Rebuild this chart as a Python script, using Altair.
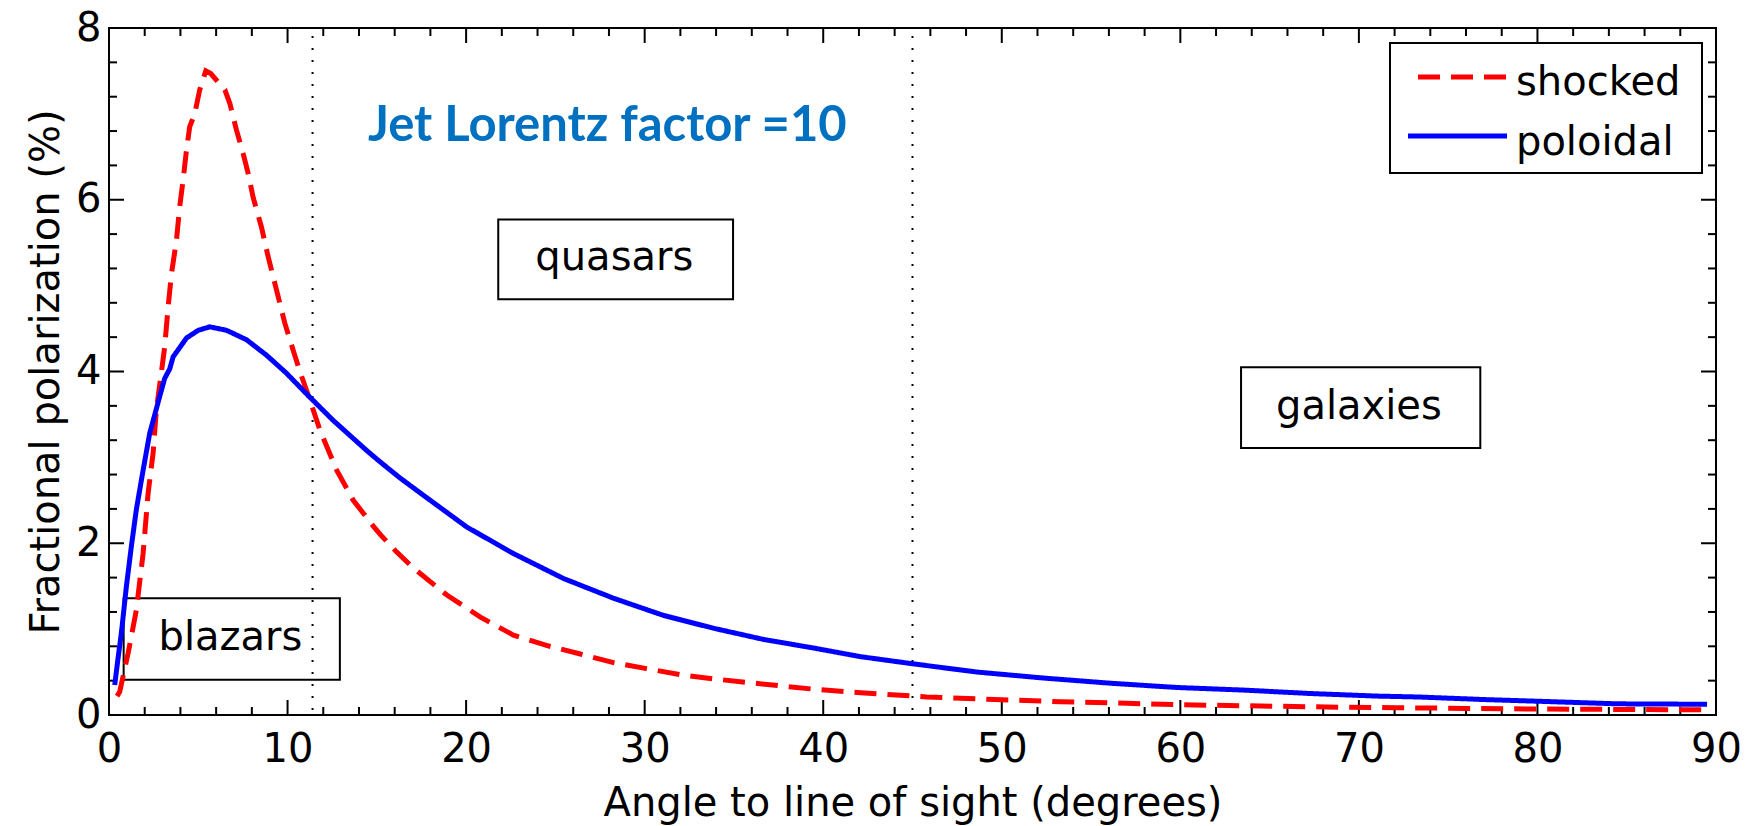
import altair as alt
import pandas as pd

# ---- data ----
shocked_angle = [0.45, 0.6, 1.07, 1.53, 1.91, 2.19, 2.47, 2.65, 2.94, 3.12, 3.31, 3.5, 3.78, 3.96,
                 4.15, 4.34, 4.52, 4.8, 5.08, 5.42, 5.7, 6.11, 6.49, 6.77, 7.14, 7.51, 7.79, 8.07,
                 8.54, 8.91, 9.38, 9.85, 10.31, 10.69, 11.25, 11.81, 12.75, 13.68, 14.8, 15.2,
                 16.1, 17.0, 18.9, 20.8, 22.65, 24.5, 26.4, 28.25, 30.1, 32.0, 33.9, 35.7, 37.6,
                 39.5, 42.1, 45.8, 49.6, 53.3, 57.0, 60.8, 64.5, 68.2, 72.0, 76.0, 80.0, 85.0, 89.5]
shocked_value = [0.22, 0.27, 0.72, 1.22, 1.88, 2.58, 3.05, 3.55, 4.0, 4.29, 4.75, 5.14, 5.53, 5.92,
                 6.23, 6.58, 6.85, 7.0, 7.28, 7.5, 7.47, 7.37, 7.28, 7.12, 6.81, 6.54, 6.31, 6.03,
                 5.68, 5.34, 4.95, 4.56, 4.25, 4.0, 3.67, 3.32, 2.85, 2.5, 2.2, 2.1,
                 1.9, 1.72, 1.4, 1.14, 0.93, 0.81, 0.71, 0.61, 0.54, 0.47, 0.42, 0.38, 0.34,
                 0.30, 0.26, 0.21, 0.18, 0.155, 0.136, 0.116, 0.105, 0.093, 0.085, 0.077, 0.07, 0.064, 0.06]

poloidal_angle = [0.32, 0.5, 0.69, 0.97, 1.25, 1.53, 1.91, 2.28, 2.84, 3.12, 3.4, 3.59, 4.34, 5.0,
                  5.64, 6.58, 7.7, 8.82, 9.94, 11.06, 12.56, 14.43, 15.17, 16.3, 17.6, 20.03,
                  22.65, 25.45, 28.25, 31.05, 33.86, 36.66, 39.46, 42.07, 44.88, 48.62, 52.36,
                  56.09, 59.83, 63.57, 67.3, 71.04, 73.3, 77.0, 80.8, 84.5, 89.5]
poloidal_value = [0.35, 0.65, 0.95, 1.49, 1.96, 2.39, 2.85, 3.28, 3.71, 3.92, 4.03, 4.17, 4.39, 4.48,
                  4.52, 4.48, 4.37, 4.19, 3.98, 3.74, 3.43, 3.08, 2.95, 2.76, 2.56, 2.19,
                  1.88, 1.59, 1.36, 1.16, 1.01, 0.88, 0.78, 0.68, 0.60, 0.50, 0.43,
                  0.37, 0.32, 0.29, 0.25, 0.22, 0.21, 0.18, 0.155, 0.13, 0.125]

series_names = ["shocked", "poloidal"]
series_colors = ["#ff0000", "#0000ff"]
series_dash = [[22, 11], [1, 0]]

region_labels = ["blazars", "quasars", "galaxies"]
region_x1 = [0.82, 21.8, 63.4]
region_x2 = [12.93, 34.95, 76.8]
region_y1 = [0.41, 4.84, 3.11]
region_y2 = [1.36, 5.77, 4.05]
region_tx = [6.8, 28.3, 70.0]
region_ty = [0.76, 5.18, 3.45]

boundary_angles = [11.4, 45.0]

x_major = [0, 10, 20, 30, 40, 50, 60, 70, 80, 90]
x_minor = [v for v in range(0, 91, 2) if v % 10 != 0]
y_major = [0, 2, 4, 6, 8]
y_minor = [0.4, 0.8, 1.2, 1.6, 2.4, 2.8, 3.2, 3.6, 4.4, 4.8, 5.2, 5.6, 6.4, 6.8, 7.2, 7.6]

title_text = "Jet Lorentz factor =10"
x_title = "Angle to line of sight (degrees)"
y_title = "Fractional polarization (%)"

# ---- build tables ----
curves = pd.concat([
    pd.DataFrame({"angle": shocked_angle, "value": shocked_value, "series": "shocked", "order": range(len(shocked_angle))}),
    pd.DataFrame({"angle": poloidal_angle, "value": poloidal_value, "series": "poloidal", "order": range(len(poloidal_angle))}),
])
regions = pd.DataFrame({"label": region_labels, "x1": region_x1, "x2": region_x2,
                        "y1": region_y1, "y2": region_y2, "tx": region_tx, "ty": region_ty})
bounds = pd.DataFrame({"angle": boundary_angles})

W, H = 1607, 687
FONT = "DejaVu Sans"
xs = alt.Scale(domain=[0, 90], nice=False, zero=False)
ys = alt.Scale(domain=[0, 8], nice=False, zero=False)
common_axis = dict(grid=False, ticks=False, domain=False, labelFlush=False,
                   labelFont=FONT, labelFontSize=40, labelColor="black",
                   titleFont=FONT, titleFontSize=40, titleFontWeight="normal", titleColor="black")
X_AX = alt.Axis(values=x_major, labelPadding=14, titlePadding=14, **common_axis)
Y_AX = alt.Axis(values=y_major, labelPadding=8, titlePadding=9, **common_axis)


def X(field):
    return alt.X(field, scale=xs, axis=X_AX, title=x_title)


def Y(field):
    return alt.Y(field, scale=ys, axis=Y_AX, title=y_title)


color_scale = alt.Scale(domain=series_names, range=series_colors)
dash_scale = alt.Scale(domain=series_names, range=series_dash)

lines = alt.Chart(curves).mark_line(strokeWidth=5, clip=True).encode(
    x=X("angle:Q"),
    y=Y("value:Q"),
    color=alt.Color("series:N", scale=color_scale, legend=None),
    strokeDash=alt.StrokeDash("series:N", scale=dash_scale, legend=None),
    order="order:Q",
)

vlines = alt.Chart(bounds).mark_rule(color="black", strokeWidth=2, strokeDash=[2, 10]).encode(
    x=X("angle:Q"),
    y=alt.value(8), y2=alt.value(H),
)

boxes = alt.Chart(regions).mark_rect(fill=None, fillOpacity=0, stroke="black", strokeWidth=2).encode(
    x=X("x1:Q"), x2="x2:Q",
    y=Y("y1:Q"), y2="y2:Q",
)

box_text = alt.Chart(regions).mark_text(font=FONT, fontSize=40, color="black",
                                        align="center", baseline="alphabetic").encode(
    x=X("tx:Q"), y=Y("ty:Q"), text="label:N",
)

head = alt.Chart(pd.DataFrame({"t": [title_text], "x": [14.5], "y": [6.68]})).mark_text(
    font="Lato", fontWeight="bold", fontSize=49, color="#0070c0", align="left", baseline="alphabetic"
).encode(x=X("x:Q"), y=Y("y:Q"), text="t:N")

# legend (drawn by hand, pixel placement inside the plot)
leg_df = pd.DataFrame({"series": series_names})
leg_box = alt.Chart(leg_df.head(1)).mark_rect(fill="white", stroke="black", strokeWidth=2).encode(
    x=alt.value(1281), x2=alt.value(1593), y=alt.value(15), y2=alt.value(145))
leg_red = alt.Chart(leg_df.iloc[[0]]).mark_rule(strokeWidth=5).encode(
    x=alt.value(1309), x2=alt.value(1398), y=alt.value(49),
    color=alt.Color("series:N", scale=color_scale, legend=None),
    strokeDash=alt.StrokeDash("series:N", scale=dash_scale, legend=None))
leg_blue = alt.Chart(leg_df.iloc[[1]]).mark_rule(strokeWidth=5).encode(
    x=alt.value(1299), x2=alt.value(1398), y=alt.value(108),
    color=alt.Color("series:N", scale=color_scale, legend=None),
    strokeDash=alt.StrokeDash("series:N", scale=dash_scale, legend=None))
leg_t1 = alt.Chart(leg_df.iloc[[0]]).mark_text(font=FONT, fontSize=40, align="left",
                                               baseline="alphabetic", color="black").encode(
    x=alt.value(1407), y=alt.value(67), text="series:N")
leg_t2 = alt.Chart(leg_df.iloc[[1]]).mark_text(font=FONT, fontSize=40, align="left",
                                               baseline="alphabetic", color="black").encode(
    x=alt.value(1407), y=alt.value(127), text="series:N")


# inward ticks on all four sides
def ticks(vals, length, side):
    df = pd.DataFrame({"v": vals})
    c = alt.Chart(df).mark_rule(color="black", strokeWidth=2)
    if side == "bottom":
        return c.encode(x=X("v:Q"), y=alt.value(H), y2=alt.value(H - length))
    if side == "top":
        return c.encode(x=X("v:Q"), y=alt.value(0), y2=alt.value(length))
    if side == "left":
        return c.encode(y=Y("v:Q"), x=alt.value(0), x2=alt.value(length))
    return c.encode(y=Y("v:Q"), x=alt.value(W), x2=alt.value(W - length))


tick_layers = []
for side in ["bottom", "top"]:
    tick_layers += [ticks(x_major, 15, side), ticks(x_minor, 8, side)]
for side in ["left", "right"]:
    tick_layers += [ticks(y_major, 15, side), ticks(y_minor, 8, side)]

chart = alt.layer(vlines, boxes, *tick_layers, box_text, head, lines,
                  leg_box, leg_red, leg_blue, leg_t1, leg_t2).properties(
    width=W, height=H, autosize="none", background="white",
    padding={"left": 109, "top": 28, "right": 39, "bottom": 111},
).configure_view(stroke="black", strokeWidth=2)

chart.save("out.html", embed_options={"renderer": "svg", "actions": False})
